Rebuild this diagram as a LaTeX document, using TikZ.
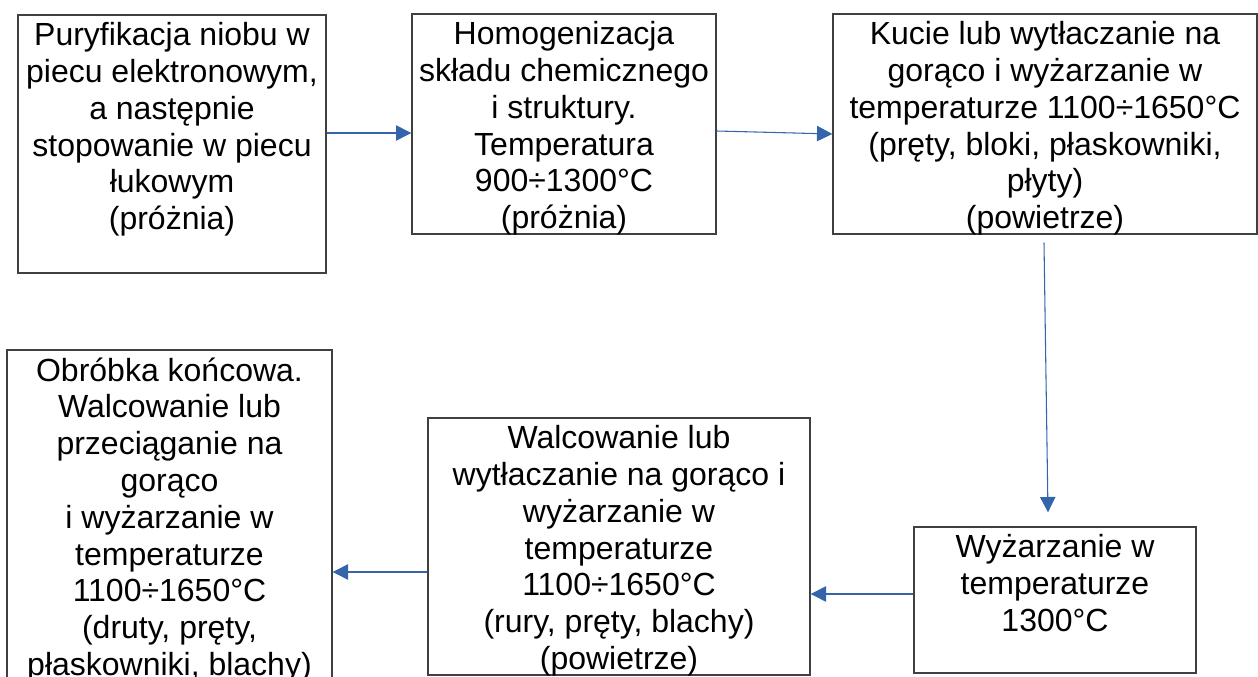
\documentclass[tikz,border=0pt]{standalone}
\usepackage{fontspec}
\setmainfont{Liberation Sans}
\usetikzlibrary{arrows.meta,positioning,calc}

\definecolor{arrowblue}{RGB}{52,101,170}

\begin{document}
\begin{tikzpicture}[x=0.75pt, y=-0.75pt,
  box/.style={draw=black!75, line width=1pt, rectangle, inner sep=0pt},
  txt/.style={anchor=north, align=center, inner sep=0pt, font=\fontsize{24}{27.6}\selectfont},
  flow/.style={draw=arrowblue, line width=0.8pt, -{Triangle[length=11.5pt, width=11.5pt]}, arrowblue}]

% Page frame (pixel units, y downwards)
\useasboundingbox (0,0) rectangle (1258,677);
\clip (0,0) rectangle (1258,677);

% Boxes
\node[box, minimum width=231pt, minimum height=193.5pt] (puryf) at (172,144) {};
\node[box, minimum width=228pt, minimum height=165pt] (homog) at (564,124) {};
\node[box, minimum width=318pt, minimum height=165pt] (kucie) at (1045,124) {};
\node[box, minimum width=243.75pt, minimum height=262.5pt] (obrobka) at (169.5,525) {};
\node[box, minimum width=286.5pt, minimum height=192.75pt] (walc) at (619,546.5) {};
\node[box, minimum width=211.5pt, minimum height=109.5pt] (wyzarz) at (1055,600) {};

% Texts, top aligned in their boxes
\node[txt, below=6pt of puryf.north] (puryftxt) {Puryfikacja niobu w\\piecu elektronowym,\\a następnie\\stopowanie w piecu\\łukowym\\(próżnia)};
\node[txt, below=6pt of homog.north] (homogtxt) {Homogenizacja\\składu chemicznego\\i struktury.\\Temperatura\\900÷1300°C\\(próżnia)};
\node[txt, below=6pt of kucie.north] (kucietxt) {Kucie lub wytłaczanie na\\gorąco i wyżarzanie w\\temperaturze 1100÷1650°C\\(pręty, bloki, płaskowniki,\\płyty)\\(powietrze)};
\node[txt, below=6pt of obrobka.north] (obrobkatxt) {Obróbka końcowa.\\Walcowanie lub\\przeciąganie na\\gorąco\\i wyżarzanie w\\temperaturze\\1100÷1650°C\\(druty, pręty,\\płaskowniki, blachy)};
\node[txt, below=6pt of walc.north] (walctxt) {Walcowanie lub\\wytłaczanie na gorąco i\\wyżarzanie w\\temperaturze\\1100÷1650°C\\(rury, pręty, blachy)\\(powietrze)};
\node[txt, below=6pt of wyzarz.north] (wyzarztxt) {Wyżarzanie w\\temperaturze\\1300°C};

% Arrows
\draw[flow] (puryf.east |- 0,133) -- (homog.west |- 0,133);
\draw[flow] (homog.east |- 0,131) -- (kucie.west |- 0,134);
\draw[flow] ($(kucie.south)+(-1,8)$) -- ($(wyzarz.north)+(-7,-14)$);
\draw[flow] (wyzarz.west |- 0,594) -- (walc.east |- 0,594);
\draw[flow] (walc.west |- 0,572) -- (obrobka.east |- 0,572);

\end{tikzpicture}
\end{document}
